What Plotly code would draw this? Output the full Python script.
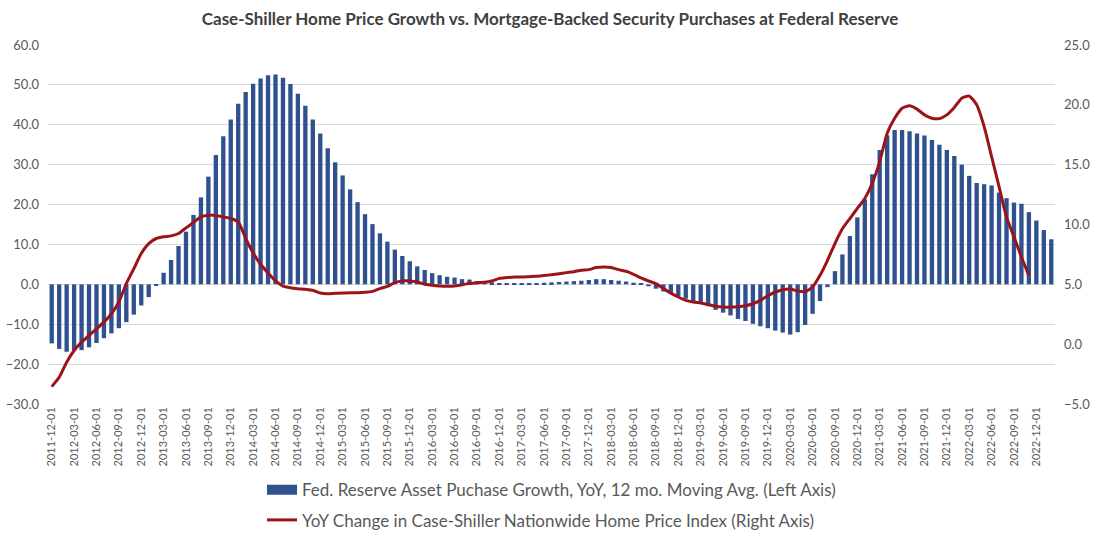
import pandas as pd
import plotly.graph_objects as go

# monthly dates, 2011-12 .. 2023-02
months = pd.date_range("2011-12-01", "2023-02-01", freq="MS").strftime("%Y-%m-%d").tolist()

# Fed asset purchase growth, YoY, 12 mo. moving avg (left axis)
fed_growth = [
    -14.8, -16.2, -16.9, -16.5, -16.5, -15.8, -14.7, -13.5, -12.3, -11.0,
    -9.5, -7.6, -5.3, -3.2, -0.4, 2.9, 6.1, 9.6, 13.2, 17.4,
    21.8, 27.0, 32.4, 37.1, 41.3, 45.3, 48.2, 50.3, 51.6, 52.4,
    52.6, 51.8, 50.2, 47.8, 44.8, 41.3, 37.8, 34.1, 30.6, 27.3,
    23.8, 20.6, 17.6, 15.1, 12.8, 10.7, 8.7, 7.1, 5.8, 4.5,
    3.6, 2.8, 2.3, 1.9, 1.7, 1.3, 1.2, 0.8, 0.7, 0.5,
    0.3, 0.3, 0.3, 0.3, 0.3, 0.3, 0.4, 0.5, 0.6, 0.7,
    0.8, 0.9, 1.1, 1.3, 1.3, 1.1, 0.9, 0.7, 0.4, 0.2,
    -0.5, -1.1, -1.8, -2.4, -2.9, -3.6, -4.2, -4.9, -5.5, -6.4,
    -7.1, -7.8, -8.7, -9.2, -9.9, -10.5, -11.0, -11.6, -12.1, -12.6,
    -12.0, -10.2, -7.4, -4.2, -0.7, 3.3, 7.5, 12.1, 16.8, 21.3,
    27.6, 33.7, 37.4, 38.7, 38.7, 38.4, 37.8, 37.3, 36.2, 35.0,
    33.7, 32.2, 30.0, 27.2, 25.4, 25.1, 24.8, 23.0, 21.6, 20.5,
    20.2, 18.1, 16.0, 13.6, 11.3,
]

# Case-Shiller nationwide HPI, YoY change (right axis)
case_shiller = [
    -3.55, -2.77, -1.51, -0.53, 0.17, 0.73, 1.28, 1.84, 2.54, 3.52,
    5.06, 6.30, 7.57, 8.40, 8.83, 8.97, 9.05, 9.25, 9.72, 10.17,
    10.64, 10.78, 10.75, 10.64, 10.50, 10.22, 8.83, 7.63, 6.68, 5.95,
    5.28, 4.86, 4.72, 4.64, 4.58, 4.50, 4.27, 4.22, 4.25, 4.27,
    4.30, 4.30, 4.33, 4.41, 4.64, 4.83, 5.14, 5.28, 5.28, 5.20,
    5.00, 4.92, 4.86, 4.83, 4.86, 4.97, 5.06, 5.14, 5.17, 5.28,
    5.50, 5.56, 5.61, 5.61, 5.64, 5.67, 5.73, 5.81, 5.89, 5.98,
    6.06, 6.17, 6.23, 6.40, 6.45, 6.40, 6.23, 6.09, 5.84, 5.53,
    5.28, 5.06, 4.64, 4.27, 3.94, 3.66, 3.52, 3.44, 3.32, 3.16,
    3.10, 3.10, 3.13, 3.21, 3.38, 3.66, 4.05, 4.36, 4.55, 4.61,
    4.44, 4.39, 4.78, 5.75, 7.01, 8.41, 9.64, 10.50, 11.34, 12.18,
    13.44, 15.25, 17.63, 18.88, 19.72, 19.92, 19.64, 19.16, 18.88, 18.85,
    19.16, 19.78, 20.56, 20.73, 20.00, 18.18, 15.67, 13.16, 10.64, 8.97,
    7.29, 5.75, None, None, None,
]

tick_dates = months[::3]

BAR_NAME = "Fed. Reserve Asset Puchase Growth, YoY, 12 mo. Moving Avg. (Left Axis)"
LINE_NAME = "YoY Change in Case-Shiller Nationwide Home Price Index (Right Axis)"

TEXT = "#595959"
BAR_COLOR = "#30518F"
LINE_COLOR = "#9C1419"
FONT = "Lato, Carlito, 'Liberation Sans', sans-serif"

fig = go.Figure()

fig.add_trace(go.Bar(
    x=months,
    y=fed_growth,
    name=BAR_NAME,
    marker=dict(color=BAR_COLOR, line=dict(width=0)),
    showlegend=False,
    yaxis="y",
))

fig.add_trace(go.Scatter(
    x=months,
    y=case_shiller,
    name=LINE_NAME,
    mode="lines",
    line=dict(color=LINE_COLOR, width=3, shape="spline", smoothing=0.6),
    connectgaps=False,
    showlegend=False,
    yaxis="y2",
))

# legend-only entries (Excel style wide swatch for the bars)
fig.add_trace(go.Scatter(
    x=[months[0]], y=[None], mode="lines", name=BAR_NAME,
    line=dict(color=BAR_COLOR, width=11),
    legendgroup="bars", yaxis="y", hoverinfo="skip",
))
fig.add_trace(go.Scatter(
    x=[months[0]], y=[None], mode="lines", name=LINE_NAME,
    line=dict(color=LINE_COLOR, width=3),
    legendgroup="line", yaxis="y2", hoverinfo="skip",
))

fig.update_layout(
    width=1100,
    height=533,
    margin=dict(l=48, r=45, t=45, b=129, autoexpand=False),
    paper_bgcolor="white",
    plot_bgcolor="white",
    font=dict(family=FONT, color=TEXT),
    title=dict(
        text="<b>Case-Shiller Home Price Growth vs. Mortgage-Backed Security Purchases at Federal Reserve</b>",
        x=0.5, xanchor="center", y=0.964, yanchor="middle",
        font=dict(size=17, color="#404040"),
    ),
    bargap=0.42,
    showlegend=True,
    legend=dict(
        orientation="v",
        x=0.5, xanchor="center",
        yref="container",
        y=0.114, yanchor="top",
        font=dict(size=17, color=TEXT),
        tracegroupgap=5,
        itemwidth=30,
    ),
    xaxis=dict(
        type="category",
        categoryorder="array",
        categoryarray=months,
        tickmode="array",
        tickvals=tick_dates,
        ticktext=tick_dates,
        tickangle=-90,
        tickfont=dict(size=11, color=TEXT),
        showgrid=False,
        showline=False,
        ticks="",
        automargin=False,
        range=[-0.5, len(months) - 0.5],
    ),
    yaxis=dict(
        range=[-30, 60],
        dtick=10,
        tickformat=".1f",
        tickfont=dict(size=13, color=TEXT),
        showgrid=True,
        gridcolor="#D9D9D9",
        gridwidth=1,
        zeroline=True,
        zerolinecolor="#D9D9D9",
        zerolinewidth=1,
        ticks="",
        ticklabelstandoff=8,
        automargin=False,
    ),
    yaxis2=dict(
        overlaying="y",
        side="right",
        range=[-5, 25],
        dtick=5,
        tickformat=".1f",
        tickfont=dict(size=13, color=TEXT),
        showgrid=False,
        zeroline=False,
        ticks="",
        ticklabelstandoff=8,
        automargin=False,
    ),
)

# drop the default body margin so the figure sits flush in the window
fig.write_html(
    "out.html",
    config={"displayModeBar": False},
    post_script="document.body.style.margin='0';window.dispatchEvent(new Event('resize'));",
)
